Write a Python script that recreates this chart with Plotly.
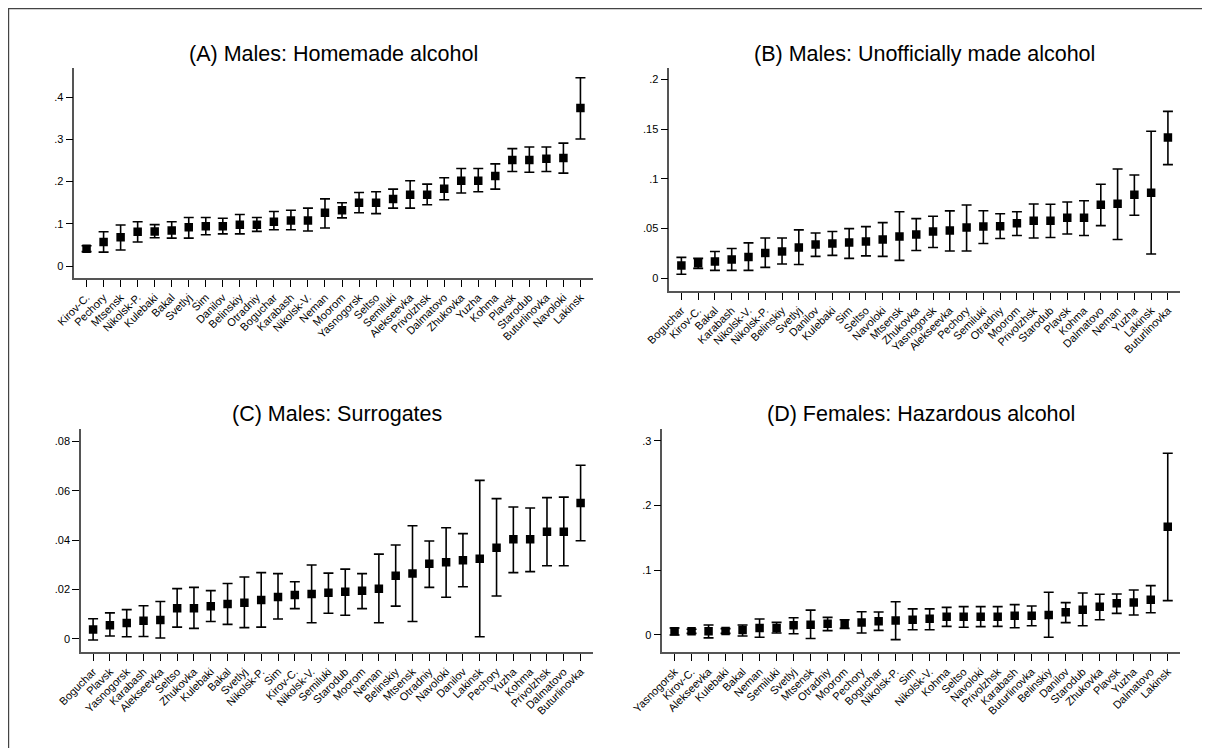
import plotly.graph_objects as go

# ---------------- data ----------------
A_names = ["Kirov-C.", "Pechory", "Mtsensk", "Nikolsk-P.", "Kulebaki", "Bakal", "Svetlyj", "Sim", "Danilov",
           "Belinskiy", "Otradniy", "Boguchar", "Karabash", "Nikolsk-V.", "Neman", "Moorom", "Yasnogorsk", "Seltso",
           "Semiluki", "Alekseevka", "Privolzhsk", "Dalmatovo", "Zhukovka", "Yuzha", "Kohma", "Plavsk", "Starodub",
           "Buturlinovka", "Navoloki", "Lakinsk"]
A_est = [0.041, 0.057, 0.068, 0.081, 0.082, 0.084, 0.092, 0.094, 0.094, 0.098, 0.098, 0.105, 0.108, 0.108, 0.126,
         0.132, 0.150, 0.150, 0.159, 0.169, 0.169, 0.183, 0.202, 0.202, 0.213, 0.251, 0.251, 0.254, 0.256, 0.374]
A_lo = [0.034, 0.033, 0.038, 0.057, 0.067, 0.066, 0.066, 0.074, 0.076, 0.076, 0.082, 0.086, 0.086, 0.083, 0.090,
        0.114, 0.126, 0.124, 0.137, 0.137, 0.145, 0.157, 0.173, 0.176, 0.182, 0.224, 0.222, 0.224, 0.220, 0.301]
A_hi = [0.048, 0.081, 0.097, 0.105, 0.098, 0.105, 0.115, 0.115, 0.113, 0.122, 0.115, 0.129, 0.132, 0.137, 0.159,
        0.150, 0.174, 0.176, 0.182, 0.202, 0.194, 0.209, 0.231, 0.231, 0.242, 0.278, 0.282, 0.282, 0.291, 0.446]

B_names = ["Boguchar", "Kirov-C.", "Bakal", "Karabash", "Nikolsk-V.", "Nikolsk-P.", "Belinskiy", "Svetlyj", "Danilov",
           "Kulebaki", "Sim", "Seltso", "Navoloki", "Mtsensk", "Zhukovka", "Yasnogorsk", "Alekseevka", "Pechory",
           "Semiluki", "Otradniy", "Moorom", "Privolzhsk", "Starodub", "Plavsk", "Kohma", "Dalmatovo", "Neman",
           "Yuzha", "Lakinsk", "Buturlinovka"]
B_est = [0.0128, 0.0151, 0.017, 0.019, 0.0215, 0.0255, 0.027, 0.031, 0.034, 0.035, 0.036, 0.037, 0.039, 0.042,
         0.044, 0.047, 0.048, 0.051, 0.052, 0.0523, 0.0554, 0.058, 0.058, 0.061, 0.061, 0.074, 0.075, 0.084, 0.086,
         0.1416]
B_lo = [0.004, 0.010, 0.008, 0.008, 0.008, 0.011, 0.0144, 0.0138, 0.022, 0.023, 0.020, 0.0225, 0.022, 0.018, 0.028,
        0.031, 0.0275, 0.0275, 0.035, 0.040, 0.043, 0.0406, 0.041, 0.0446, 0.043, 0.053, 0.039, 0.0634, 0.0245,
        0.1144]
B_hi = [0.021, 0.020, 0.027, 0.030, 0.0356, 0.0406, 0.0406, 0.0487, 0.0456, 0.047, 0.050, 0.052, 0.056, 0.067,
        0.060, 0.0624, 0.0678, 0.0738, 0.068, 0.065, 0.067, 0.0748, 0.0745, 0.0768, 0.078, 0.0946, 0.110, 0.104,
        0.148, 0.168]

C_names = ["Boguchar", "Plavsk", "Yasnogorsk", "Karabash", "Alekseevka", "Seltso", "Zhukovka", "Kulebaki", "Bakal",
           "Svetlyj", "Nikolsk-P.", "Sim", "Kirov-C.", "Nikolsk-V.", "Semiluki", "Starodub", "Moorom", "Neman",
           "Belinskiy", "Mtsensk", "Otradniy", "Navoloki", "Danilov", "Lakinsk", "Pechory", "Yuzha", "Kohma",
           "Privolzhsk", "Dalmatovo", "Buturlinovka"]
C_est = [0.0037, 0.0055, 0.0064, 0.0073, 0.0076, 0.0124, 0.0124, 0.0132, 0.0141, 0.0146, 0.0157, 0.0169, 0.0177,
         0.0181, 0.0186, 0.019, 0.0195, 0.0203, 0.0255, 0.0264, 0.0304, 0.031, 0.0318, 0.0324, 0.0369, 0.0403,
         0.0403, 0.0434, 0.0434, 0.055]
C_lo = [-0.0005, 0.0011, 0.0008, 0.0009, 0.0003, 0.0047, 0.0042, 0.0070, 0.0058, 0.0045, 0.0047, 0.008, 0.0122,
        0.0065, 0.0103, 0.0095, 0.0122, 0.0065, 0.0132, 0.007, 0.0208, 0.0168, 0.0211, 0.0008, 0.0173, 0.0268,
        0.0272, 0.0296, 0.0296, 0.0397]
C_hi = [0.0081, 0.0105, 0.0118, 0.0134, 0.0151, 0.0203, 0.0208, 0.0195, 0.0224, 0.025, 0.0268, 0.0264, 0.0231,
        0.0299, 0.0266, 0.0282, 0.0264, 0.0343, 0.038, 0.0458, 0.0396, 0.045, 0.0426, 0.0642, 0.0568, 0.0534,
        0.053, 0.0572, 0.0574, 0.0703]

D_names = ["Yasnogorsk", "Kirov-C.", "Alekseevka", "Kulebaki", "Bakal", "Neman", "Semiluki", "Svetlyj", "Mtsensk",
           "Otradniy", "Moorom", "Pechory", "Boguchar", "Nikolsk-P.", "Sim", "Nikolsk-V.", "Kohma", "Seltso",
           "Navoloki", "Privolzhsk", "Karabash", "Buturlinovka", "Belinskiy", "Danilov", "Starodub", "Zhukovka",
           "Plavsk", "Yuzha", "Dalmatovo", "Lakinsk"]
D_est = [0.0052, 0.0052, 0.0052, 0.0057, 0.0072, 0.0103, 0.0103, 0.0145, 0.0155, 0.017, 0.017, 0.019, 0.0206,
         0.022, 0.0232, 0.0248, 0.0279, 0.0279, 0.0279, 0.0279, 0.0294, 0.0294, 0.0305, 0.0346, 0.0387, 0.0434,
         0.0485, 0.050, 0.0542, 0.167]
D_lo = [-0.0005, 0.002, -0.005, 0.002, -0.002, -0.004, 0.0026, 0.0015, -0.006, 0.0062, 0.0098, 0.0026, 0.0067,
        -0.0077, 0.0077, 0.0077, 0.0129, 0.0114, 0.0124, 0.0129, 0.0108, 0.0139, -0.004, 0.0186, 0.0139, 0.0232,
        0.033, 0.0305, 0.034, 0.0527]
D_hi = [0.0103, 0.0083, 0.015, 0.0093, 0.015, 0.0243, 0.019, 0.0263, 0.038, 0.0268, 0.0232, 0.0356, 0.035, 0.051,
        0.040, 0.040, 0.0423, 0.0434, 0.0434, 0.0434, 0.0465, 0.0444, 0.0656, 0.0496, 0.0645, 0.0625, 0.063, 0.0692,
        0.0759, 0.281]

titles = ["(A) Males: Homemade alcohol", "(B) Males: Unofficially made alcohol",
          "(C) Males: Surrogates", "(D) Females: Hazardous alcohol"]

A_ticks = [0, 0.1, 0.2, 0.3, 0.4]
A_ticktext = ["0", ".1", ".2", ".3", ".4"]
B_ticks = [0, 0.05, 0.1, 0.15, 0.2]
B_ticktext = ["0", ".05", ".1", ".15", ".2"]
C_ticks = [0, 0.02, 0.04, 0.06, 0.08]
C_ticktext = ["0", ".02", ".04", ".06", ".08"]
D_ticks = [0, 0.1, 0.2, 0.3]
D_ticktext = ["0", ".1", ".2", ".3"]

# ---------------- layout geometry ----------------
# page has an 8px body margin, so the figure is sized to fit the window and
# page-pixel positions are converted to figure pixels by subtracting OFF
OFF = 8
W, H = 1210 - 2 * OFF, 756 - 2 * OFF
panels = [
    (A_names, A_est, A_lo, A_hi, A_ticks, A_ticktext, (74.3, 592.7), (68, 278), [-0.0284, 0.469]),
    (B_names, B_est, B_lo, B_hi, B_ticks, B_ticktext, (669.3, 1180), (68.3, 291), [-0.0128, 0.2113]),
    (C_names, C_est, C_lo, C_hi, C_ticks, C_ticktext, (81, 592.7), (429.3, 652.3), [-0.0055, 0.0849]),
    (D_names, D_est, D_lo, D_hi, D_ticks, D_ticktext, (662.3, 1180), (429.3, 652.3), [-0.0273, 0.318]),
]
title_y_px = [54, 54, 414, 414]

FONT = "Liberation Sans, Arial, sans-serif"
fig = go.Figure()
layout = dict(
    template="none",
    width=W, height=H,
    margin=dict(l=0, r=0, t=0, b=0, autoexpand=False),
    paper_bgcolor="white", plot_bgcolor="white",
    showlegend=False,
    font=dict(family=FONT, color="black"),
    annotations=[], shapes=[],
)

for i, (names, est, lo, hi, tv, tt, xp, yp, yr) in enumerate(panels):
    n = i + 1
    xa = "x" if n == 1 else f"x{n}"
    ya = "y" if n == 1 else f"y{n}"
    fig.add_trace(go.Scatter(
        x=names, y=est, xaxis=xa, yaxis=ya, mode="markers",
        marker=dict(symbol="square", size=8.5, color="black", line=dict(width=0)),
        error_y=dict(type="data", symmetric=False,
                     array=[h - e for h, e in zip(hi, est)],
                     arrayminus=[e - l for e, l in zip(est, lo)],
                     color="black", thickness=1.6, width=5),
        hoverinfo="x+y",
    ))
    xdom = [(xp[0] - OFF) / W, (xp[1] - OFF) / W]
    ydom = [1 - (yp[1] - OFF) / H, 1 - (yp[0] - OFF) / H]
    layout["xaxis" if n == 1 else f"xaxis{n}"] = dict(
        domain=xdom, anchor=ya, type="category", range=[-0.72, len(names) - 0.28],
        automargin=False,
        showline=True, linecolor="#555555", linewidth=1.5, showgrid=False, zeroline=False,
        ticks="outside", ticklen=7, tickwidth=1.2, tickcolor="black", tickangle=-45,
        tickfont=dict(family=FONT, size=11, color="black"),
    )
    layout["yaxis" if n == 1 else f"yaxis{n}"] = dict(
        domain=ydom, anchor=xa, range=yr, tickvals=tv, ticktext=tt,
        automargin=False,
        showline=True, linecolor="#555555", linewidth=1.5, showgrid=False, zeroline=False,
        ticks="outside", ticklen=7, tickwidth=1.2, tickcolor="black",
        tickfont=dict(family=FONT, size=11, color="black"),
    )
    layout["annotations"].append(dict(
        text=titles[i], xref="paper", yref="paper",
        x=(xdom[0] + xdom[1]) / 2, y=1 - (title_y_px[i] - OFF) / H,
        xanchor="center", yanchor="middle", showarrow=False,
        font=dict(family=FONT, size=21.5, color="black"),
    ))

# outer frame: only the left and top edges are visible in the reference
frame_line = dict(color="#444444", width=1.2)
layout["shapes"].append(dict(type="line", xref="paper", yref="paper",
                             x0=0.6 / W, x1=0.6 / W, y0=0, y1=1, line=frame_line))
layout["shapes"].append(dict(type="line", xref="paper", yref="paper",
                             x0=0, x1=1, y0=1 - 0.6 / H, y1=1 - 0.6 / H, line=frame_line))

fig.update_layout(**layout)
fig.write_html("out.html")
